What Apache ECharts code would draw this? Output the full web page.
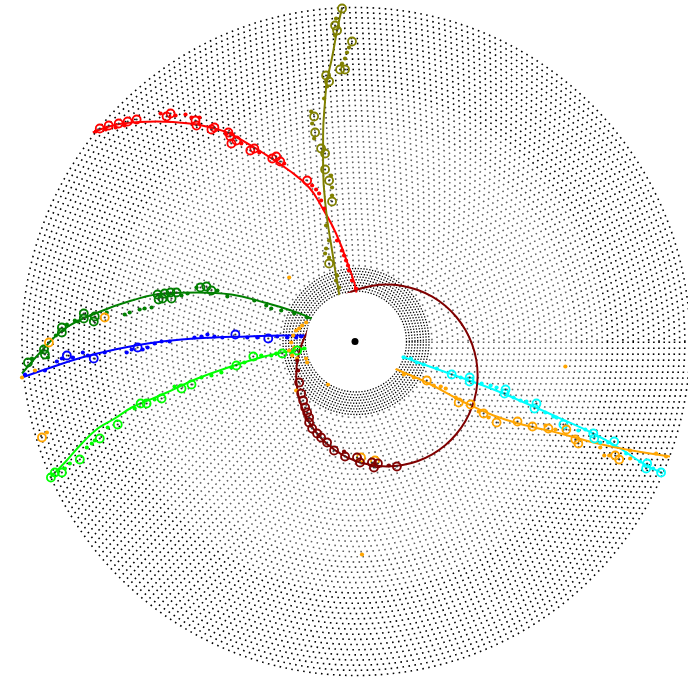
<!DOCTYPE html>
<html><head><meta charset="utf-8">
<script src="https://cdn.jsdelivr.net/npm/echarts@6/dist/echarts.min.js"></script>
<style>html,body{margin:0;padding:0;background:#fff}#c{width:688px;height:680px}</style>
</head><body><div id="c"></div>
<script>
// ---- detector layers (ring indices) ----
const innerLayers = [0,1,2,3,4,5,6,7,8];          // dense pixel layers
const outerLayers = Array.from({length:51},(_,i)=>i); // strip layers
const outerLayerColors = outerLayers.map(i => i >= 34 ? '#000' : (i >= 28 ? '#3a3a3a' : '#636363'));
const vertex = [[0,0]];

// ---- tracks: fitted trajectories ----
const redTrack = [[-263,209],[-233,218],[-199,220],[-166,218],[-141,213],[-126,208],[-93,189],[-66,171],[-46,154],[-33,134],[-19,108],[-6,74],[1,51],[2,36]];
const redHits2D = [[-256,213],[-247,216],[-237,218],[-228,220],[-219,222],[-189,225],[-185,228],[-160,221],[-159,216],[-141,214],[-144,212],[-127,209],[-125,205],[-124,198],[-119,201],[-105,191],[-101,193],[-79,185],[-83,183],[-75,180],[-48,161]];
const redHits = [[-195,228],[-180,226],[-170,227],[-164,224],[-156,224],[-231,216],[-250,212],[-240,214],[-129,208],[-114,198],[-96,189],[-71,178],[-43,156],[-39,152],[-36,148],[-34,141],[-31,133],[-18,101],[-13,91],[-11,86],[-9,81],[-7,76],[-6,71],[-3,61],[1,53],[-260,210]];

const oliveTrack = [[-13,334],[-18,311],[-23,284],[-28,261],[-30,241],[-32,206],[-32,174],[-29,131],[-23,91],[-16,48],[-13,31]];
const oliveHits2D = [[-13,333],[-20,316],[-18,311],[-3,300],[-15,272],[-10,272],[-29,266],[-26,260],[-41,225],[-40,209],[-34,193],[-30,188],[-30,172],[-26,161],[-23,140],[-26,78]];
const oliveHits = [[-13,278],[-6,294],[-8,289],[-10,283],[-28,255],[-31,243],[-19,323],[-20,306],[-44,230],[-43,218],[-41,203],[-24,166],[-23,154],[-23,146],[-29,116],[-26,101],[-29,93],[-30,88],[-26,84],[-18,66],[-19,61],[-16,54]];

const greenTrack = [[-334,-32],[-314,-9],[-291,13],[-258,29],[-224,41],[-191,48],[-158,49],[-124,47],[-91,39],[-64,31],[-44,23],[-26,11]];
const greenHits2D = [[-328,-21],[-312,-8],[-311,-13],[-294,14],[-294,9],[-272,28],[-272,23],[-261,25],[-262,20],[-198,47],[-197,42],[-191,48],[-185,49],[-179,49],[-184,43],[-193,43],[-149,55],[-155,54],[-144,51]];
const greenHits = [[-289,17],[-281,21],[-278,20],[-249,29],[-231,27],[-226,29],[-216,32],[-211,33],[-204,34],[-174,46],[-168,48],[-159,54],[-138,51],[-128,45],[-101,41],[-89,36],[-84,33],[-74,31],[-61,28],[-48,24],[-300,6],[-324,-17],[-308,-16]];

const blueTrack = [[-334,-36],[-308,-27],[-274,-16],[-241,-8],[-208,-2],[-174,2],[-141,4],[-108,5],[-74,6],[-51,6],[-26,5]];
const blueHits2D = [[-289,-14],[-262,-17],[-218,-6],[-120,7],[-87,3]];
const blueHits = [[-331,-33],[-311,-29],[-299,-20],[-294,-17],[-283,-16],[-273,-11],[-268,-14],[-251,-11],[-229,-11],[-224,-8],[-213,-8],[-208,-6],[-201,-2],[-194,0],[-186,0],[-161,4],[-154,5],[-148,7],[-141,5],[-133,4],[-108,4],[-98,4],[-78,5],[-68,4],[-59,4],[-54,5]];

const limeTrack = [[-306,-136],[-291,-121],[-274,-102],[-258,-87],[-241,-77],[-224,-66],[-208,-59],[-191,-52],[-158,-37],[-124,-25],[-91,-15],[-68,-10],[-49,-7],[-26,-4]];
const limeHits2D = [[-305,-136],[-301,-131],[-294,-131],[-276,-118],[-256,-97],[-238,-83],[-215,-62],[-209,-62],[-194,-57],[-174,-47],[-164,-43],[-119,-24],[-102,-15],[-73,-12],[-58,-9]];
const limeHits = [[-291,-127],[-286,-122],[-269,-106],[-264,-102],[-261,-99],[-248,-86],[-221,-67],[-201,-58],[-181,-45],[-154,-36],[-144,-34],[-134,-31],[-124,-26],[-111,-21],[-94,-14],[-84,-14],[-79,-12],[-64,-11],[-51,-7]];

const cyanTrack = [[24,-7],[47,-15],[72,-24],[106,-36],[139,-48],[172,-62],[206,-77],[239,-92],[266,-107],[289,-122],[309,-132]];
const cyanHits2D = [[97,-33],[115,-36],[115,-40],[151,-48],[150,-52],[182,-62],[180,-67],[209,-83],[239,-92],[240,-97],[260,-100],[293,-122],[292,-127],[307,-131]];
const cyanHits = [[49,-16],[56,-17],[62,-21],[69,-23],[82,-27],[106,-36],[127,-42],[136,-44],[142,-46],[159,-56],[166,-59],[172,-60],[191,-71],[199,-75],[202,-76],[224,-89],[231,-88],[246,-101],[254,-101],[272,-112],[286,-120],[299,-127]];

const orangeTrack = [[19,-17],[42,-28],[72,-41],[106,-59],[139,-74],[172,-84],[206,-92],[239,-101],[272,-108],[316,-115]];
const orangeHits2D = [[72,-39],[104,-61],[116,-63],[129,-72],[142,-81],[163,-80],[178,-85],[194,-87],[212,-88],[221,-98],[224,-102],[261,-114],[265,-118],[-251,24],[-307,-1],[-314,-96],[6,-116],[20,-119]];
const orangeHits = [[49,-33],[59,-36],[79,-44],[86,-45],[91,-47],[101,-56],[124,-70],[134,-76],[191,-84],[201,-88],[250,-114],[255,-114],[276,-117],[246,-106],[276,-109],[302,-112],[312,-115],[211,-25],[-66,64],[7,-213],[-309,-91],[-27,-43],[-334,-36],[-321,-29],[-49,19],[-53,16],[-56,13],[-59,11],[-62,6],[-64,-1],[-61,-6],[-63,-14],[-58,-17],[-49,-17],[-48,-21],[-46,8],[-59,-49],[-66,-9]];

const maroonTrack = [[-13.5,44.8],[0.9,51.5],[16.2,55.6],[32,57],[47.8,55.6],[63.1,51.5],[77.5,44.8],[90.5,35.7],[101.7,24.5],[110.8,11.5],[117.5,-2.9],[121.6,-18.2],[123,-34],[121.6,-49.8],[117.5,-65.1],[110.8,-79.5],[101.7,-92.5],[90.5,-103.7],[77.5,-112.8],[63.1,-119.5],[47.8,-123.6],[32,-125],[16.2,-123.6],[0.9,-119.5],[-13.5,-112.8],[-26.5,-103.7],[-37.7,-92.5],[-46.8,-79.5],[-53.5,-65.1],[-57.6,-49.8],[-59,-34],[-57.6,-18.2],[-53.5,-2.9],[-46.8,11.5],[-42.5,18.2]];
const maroonHits2D = [[-56,-41],[-54,-52],[-52,-59],[-50,-66],[-48,-71],[-46,-76],[-46,-81],[-43,-87],[-38,-92],[-34,-96],[-28,-101],[-21,-109],[-10,-115],[2,-116],[5,-121],[17,-121],[19,-126],[23,-122],[42,-125]];
const maroonHits = [[-57,-29],[-58,-19],[-11,-110],[34,-124]];

const tracks = [
  {color:'#ff0000', line:redTrack, hits:redHits, hits2d:redHits2D, smooth:0.45},
  {color:'#808000', line:oliveTrack, hits:oliveHits, hits2d:oliveHits2D, smooth:0.45},
  {color:'#008000', line:greenTrack, hits:greenHits, hits2d:greenHits2D, smooth:0.45},
  {color:'#0000ff', line:blueTrack, hits:blueHits, hits2d:blueHits2D, smooth:0.45},
  {color:'#00ff00', line:limeTrack, hits:limeHits, hits2d:limeHits2D, smooth:0.45},
  {color:'#00ffff', line:cyanTrack, hits:cyanHits, hits2d:cyanHits2D, smooth:0.45},
  {color:'#ffa500', line:orangeTrack, hits:orangeHits, hits2d:orangeHits2D, smooth:0.45},
  {color:'#800000', line:maroonTrack, hits:maroonHits, hits2d:maroonHits2D, smooth:0.3}
];

const series = [];
tracks.forEach(t=>{
  series.push({type:'line', data:t.line, smooth:t.smooth, symbol:'none', z:3,
    lineStyle:{color:t.color, width:2}, silent:true});
});
tracks.forEach(t=>{
  series.push({type:'scatter', data:t.hits, symbol:'circle', symbolSize:4.2, z:4,
    itemStyle:{color:t.color, opacity:1}, silent:true});
  series.push({type:'scatter', data:t.hits2d, symbol:'circle', symbolSize:8, z:5,
    itemStyle:{color:'rgba(0,0,0,0)', borderColor:t.color, borderWidth:1.8, opacity:1}, silent:true});
  series.push({type:'scatter', data:t.hits2d, symbol:'circle', symbolSize:2.2, z:5,
    itemStyle:{color:'#333', opacity:1}, silent:true});
});
series.push({type:'scatter', data:vertex, symbol:'circle', symbolSize:98, z:10,
  itemStyle:{color:'#fff', opacity:1}, silent:true});
series.push({type:'scatter', data:vertex, symbol:'circle', symbolSize:7, z:11,
  itemStyle:{color:'#000', opacity:1}, silent:true});

const hiddenAngle = (i)=>({polarIndex:i, min:0, max:360, axisLine:{show:false}, axisTick:{show:false}, axisLabel:{show:false}, splitLine:{show:false}});
const chart = echarts.init(document.getElementById('c'), null, {renderer:'canvas'});
chart.setOption({
  animation:false,
  backgroundColor:'#fff',
  polar:[{center:[356,341.5], radius:[50.5,73]},{center:[356,341.5], radius:[76,334]}],
  angleAxis:[hiddenAngle(0), hiddenAngle(1)],
  radiusAxis:[
    {polarIndex:0, min:0, max:innerLayers.length-1, interval:1, axisLine:{show:false}, axisTick:{show:false}, axisLabel:{show:false},
     splitLine:{show:true, lineStyle:{color:'#000', width:1.3, type:[1.3,1.6]}}},
    {polarIndex:1, min:0, max:outerLayers.length-1, interval:1, axisLine:{show:false}, axisTick:{show:false}, axisLabel:{show:false},
     splitLine:{show:true, lineStyle:{color:outerLayerColors, width:1.6, type:[1.6,4.4]}}}
  ],
  grid:{left:22, top:7.5, width:668, height:668, containLabel:false},
  xAxis:{type:'value', min:-334, max:334, show:false},
  yAxis:{type:'value', min:-334, max:334, show:false},
  series:series
});
</script></body></html>
